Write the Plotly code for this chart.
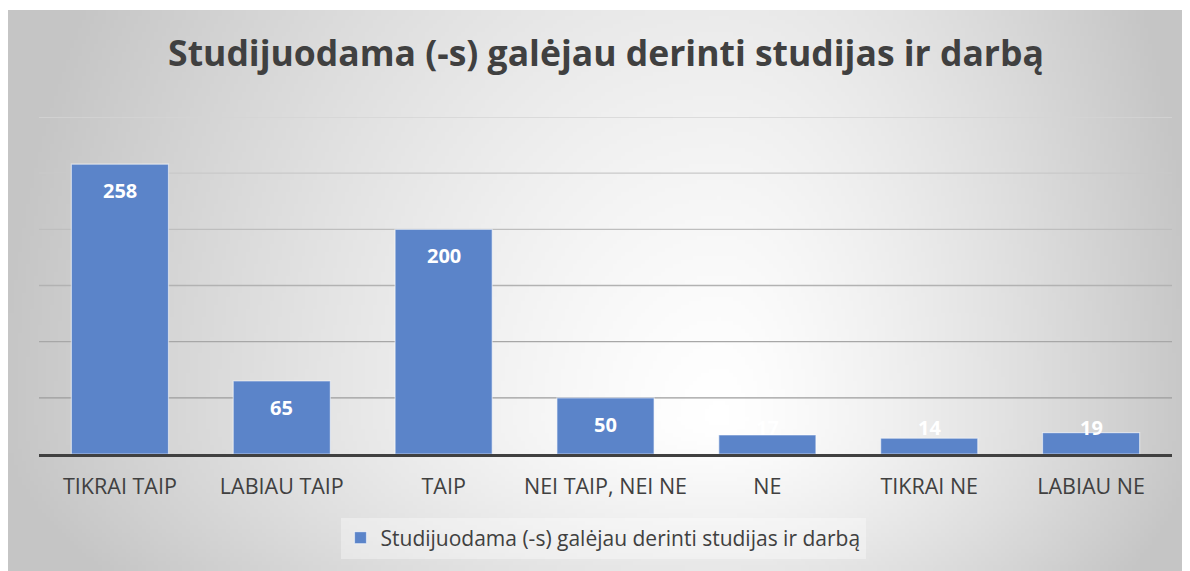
import base64
import math
import struct
import zlib

import plotly.graph_objects as go

# ---------------- data ----------------
categories = ["TIKRAI TAIP", "LABIAU TAIP", "TAIP", "NEI TAIP, NEI NE", "NE", "TIKRAI NE", "LABIAU NE"]
values = [258, 65, 200, 50, 17, 14, 19]
series_name = "Studijuodama (-s) galėjau derinti studijas ir darbą"
title_text = "Studijuodama (-s) galėjau derinti studijas ir darbą"
grid_ticks = [50, 100, 150, 200, 250, 300]
y_range = [0, 300]

# ---------------- style ----------------
# the page body adds an 8px margin, so the figure is sized to the visible area
W, H = 1182, 563
ML, MR, MT, MB = 31, 18, 109, 117
CH_X0, CH_Y0 = 0, 2           # chart-area top-left corner (px)
BAR_COLOR = "#5b84c9"
TEXT_COLOR = "#404040"
FONT = "Open Sans"
LABEL_MIN = 47                # labels of short bars are kept at this level
LABEL_SHIFT = -26.5


def chunk(tag, data):
    c = struct.pack(">I", len(data)) + tag + data
    return c + struct.pack(">I", zlib.crc32(tag + data) & 0xFFFFFFFF)


def gradient_png(w, h):
    sx = (W - CH_X0) / w
    sy = (H - CH_Y0) / h
    cx, cy = 712, 412
    rows = []
    for j in range(h):
        py = CH_Y0 + (j + 0.5) * sy
        dy = (py - cy) / (900 if py < cy else 300)
        row = bytearray([0])
        for i in range(w):
            px = CH_X0 + (i + 0.5) * sx
            dx = (px - cx) / (720 if px < cx else 480)
            r = min(1.0, math.hypot(dx, dy))
            c = int(round(255 - 58 * r ** 1.3))
            row += bytes((c, c, c))
        rows.append(bytes(row))
    raw = b"".join(rows)
    png = (b"\x89PNG\r\n\x1a\n"
           + chunk(b"IHDR", struct.pack(">IIBBBBB", w, h, 8, 2, 0, 0, 0))
           + chunk(b"IDAT", zlib.compress(raw, 9))
           + chunk(b"IEND", b""))
    return "data:image/png;base64," + base64.b64encode(png).decode()


pw = W - ML - MR
ph = H - MT - MB
img_x0 = (CH_X0 - ML) / pw
img_x1 = (W - ML) / pw
img_top = (H - MB - CH_Y0) / ph
img_bot = -MB / ph

fig = go.Figure()
fig.add_trace(go.Bar(
    x=categories, y=values, name=series_name, showlegend=True,
    marker=dict(color=BAR_COLOR, line=dict(color="rgba(255,255,255,0.55)", width=1.2)),
    hoverinfo="x+y",
))

# data labels ("inside end")
for c, v in zip(categories, values):
    fig.add_annotation(
        x=c, y=max(v, LABEL_MIN), yshift=LABEL_SHIFT, text=str(v), showarrow=False,
        xanchor="center", yanchor="middle",
        font=dict(family=FONT, size=20, color="white", weight=700),
    )


# gridlines (fading towards the top)
def mix(a, b, t):
    return int(round(a + (b - a) * t))


shapes = []
for k, t in enumerate(grid_ticks):
    f = k / (len(grid_ticks) - 1)
    g = mix(0x9c, 0xd4, f)
    shapes.append(dict(type="line", xref="paper", x0=0, x1=1, yref="y", y0=t, y1=t,
                       line=dict(color=f"rgb({g},{g},{g})", width=1.3), layer="below"))

fig.update_layout(
    width=W, height=H,
    margin=dict(l=ML, r=MR, t=MT, b=MB),
    paper_bgcolor="white",
    plot_bgcolor="rgba(0,0,0,0)",
    bargap=0.4,
    shapes=shapes,
    images=[dict(source=gradient_png(296, 140), xref="paper", yref="paper",
                 x=img_x0, y=img_top, sizex=img_x1 - img_x0, sizey=img_top - img_bot,
                 xanchor="left", yanchor="top", sizing="stretch", layer="below")],
    title=dict(text=title_text, x=598 / W, xanchor="center", xref="container",
               y=1 - 46 / H, yanchor="middle", yref="container",
               font=dict(family=FONT, size=35.5, color=TEXT_COLOR, weight=700)),
    legend=dict(orientation="h", x=(595 - ML) / pw, xanchor="center",
                y=(H - MB - 530) / ph, yanchor="middle",
                bgcolor="rgba(255,255,255,0.35)",
                font=dict(family=FONT, size=21, color=TEXT_COLOR)),
    xaxis=dict(showline=True, linecolor="#404040", linewidth=3, ticks="",
               tickfont=dict(family=FONT, size=21.5, color=TEXT_COLOR),
               ticklabelstandoff=11, showgrid=False, fixedrange=True),
    yaxis=dict(range=y_range, showgrid=False, zeroline=False, showticklabels=False,
               showline=False, ticks="", fixedrange=True),
)

fig.write_html("out.html")
